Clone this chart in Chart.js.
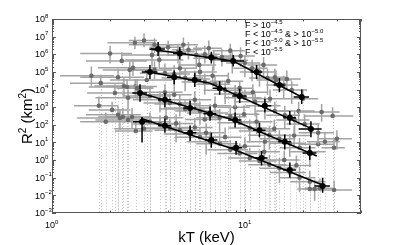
<html lang="en">

<head>
    <meta charset="UTF-8" />
    <title>R2 vs kT</title>
    <style>
        body { margin: 0; background: #fff; }
    </style>
</head>

<body>
    <canvas id="myChart" width="399" height="245"></canvas>

    <script src="https://cdn.jsdelivr.net/npm/chart.js"></script>

    <script>
        // each point: [kT, R2, kT error, R2 lower, R2 upper]  (R2 lower 0 = limit runs off the axis)
        const g1Grey = [
            [2.69, 4.5e6, 0.75, 2e6, 1e7], [2.30, 4.2e5, 0.8, 0, 1.3e6], [3.0, 6e6, 0.5, 2.5e6, 1.5e7],
            [3.4, 3.5e6, 0.9, 1.2e6, 8e6], [3.6, 4.8e5, 1.2, 1.5e5, 1.5e6], [4.0, 2.5e6, 0.8, 8e5, 6e6],
            [4.5, 1.4e6, 1.0, 3e5, 4e6], [5.1, 1.8e6, 0.9, 5e5, 5e6], [5.6, 9e5, 1.6, 1.5e5, 3e6],
            [5.8, 2.5e5, 1.3, 0, 8e5], [6.2, 1.0e6, 1.2, 3e5, 3e6], [6.9, 6e5, 1.5, 1.2e5, 1.8e6],
            [7.6, 7e5, 1.3, 2e5, 2e6], [8.4, 1.6e6, 1.6, 5e5, 4e6], [8.6, 4.6e5, 1.8, 8e4, 1.3e6],
            [10.0, 3.2e5, 2.0, 5e4, 8e5], [10.9, 1.6e5, 2.2, 3e4, 5e5], [11.9, 1e5, 2.5, 1.5e4, 3e5],
            [13.1, 4.5e4, 2.6, 5e3, 1.5e5], [14.3, 5e4, 2.0, 1.5e4, 1.5e5], [14.5, 3.5e4, 3.0, 0, 1.2e5],
            [15.9, 1.8e4, 3.0, 3e3, 6e4], [17.5, 9.5e3, 3.5, 1.5e3, 3e4], [25, 5.3e2, 6, 1.5e2, 1.5e3],
            [28.5, 3.2e2, 8, 0, 1e3], [2.0, 1.1e6, 0.6, 3e5, 3e6], [3.3, 9e5, 1.0, 2e5, 3e6],
            [4.8, 3.5e6, 0.9, 1e6, 9e6], [6.5, 2.2e6, 1.1, 6e5, 6e6], [9.5, 8e5, 1.8, 2e5, 2.5e6],
            [12.5, 2.5e5, 2.2, 6e4, 7e5], [16.5, 4e4, 3, 1e4, 1.2e5], [20, 3e3, 4, 0, 1e4]
        ];
        const g2Grey = [
            [1.79, 2.3e4, 0.55, 0, 7e4], [2.53, 1.3e5, 0.7, 4e4, 4e5], [2.63, 1.7e5, 0.9, 6e4, 5e5],
            [2.36, 1.6e4, 0.7, 4e3, 5e4], [2.45, 1.4e4, 0.9, 0, 4e4], [2.76, 1.2e4, 0.6, 3e3, 4e4],
            [3.4, 1.3e5, 0.8, 4e4, 4e5], [3.85, 8.5e4, 1.0, 0, 3e5], [4.3, 7.5e4, 0.9, 1.5e4, 2.5e5],
            [4.9, 4.5e4, 1.2, 8e3, 1.5e5], [5.5, 4e4, 1.1, 0, 1.2e5], [5.85, 1e5, 1.3, 3e4, 3e5],
            [6.2, 2.7e4, 1.5, 5e3, 8e4], [7.0, 2e4, 1.4, 0, 6e4], [7.9, 9e3, 1.8, 1.5e3, 3e4],
            [8.9, 5.5e3, 2.0, 1e3, 1.8e4], [9.4, 1.2e4, 1.6, 3e3, 3e4], [10.0, 3.4e3, 2.2, 0, 1e4],
            [11.3, 2e3, 2.4, 3e2, 6e3], [12.7, 1.2e3, 2.6, 2e2, 4e3], [14.3, 6e2, 3.0, 0, 2e3],
            [16.1, 3.5e2, 3.2, 60, 1.2e3], [18.1, 1.9e2, 3.5, 30, 6e2], [20.4, 1.1e2, 4, 0, 4e2],
            [24, 35, 5, 8, 1.2e2], [26, 11, 5, 0, 40], [30, 16, 6, 4, 50], [29, 5, 4, 0, 18],
            [1.6, 6e4, 0.5, 1.5e4, 2e5], [2.2, 5e4, 0.8, 0, 1.5e5], [3.1, 3.5e4, 1.1, 0, 1.2e5],
            [4.6, 1.6e5, 1.0, 5e4, 4e5], [6.8, 6e4, 1.4, 1.5e4, 2e5], [8.2, 3e4, 1.6, 0, 9e4],
            [11.0, 7e3, 2.2, 1.5e3, 2e4], [13.5, 3e3, 2.6, 0, 1e4], [19, 6e2, 4, 1e2, 2e3]
        ];
        const g3Grey = [
            [2.12, 6.3e3, 0.6, 0, 2e4], [2.48, 3.4e3, 0.8, 8e2, 1e4], [3.22, 4.3e3, 0.9, 0, 1.4e4],
            [3.63, 2.6e3, 1.0, 5e2, 8e3], [3.85, 7e3, 0.9, 2e3, 2e4], [4.08, 1.7e3, 1.1, 0, 6e3],
            [4.6, 1.5e3, 1.2, 3e2, 5e3], [5.2, 9e2, 1.4, 0, 3e3], [5.5, 2.6e3, 1.2, 6e2, 8e3],
            [5.85, 6e2, 1.5, 1e2, 2e3], [6.2, 2e2, 1.3, 0, 7e2], [6.6, 4.7e2, 1.6, 0, 1.5e3],
            [7.4, 2.5e2, 1.8, 40, 8e2], [8.4, 2.9e2, 1.8, 0, 9e2], [8.9, 1e3, 1.7, 2.5e2, 3e3],
            [9.4, 1.3e2, 2.2, 0, 4e2], [10.6, 65, 2.4, 10, 2e2], [11.9, 45, 2.6, 0, 1.5e2],
            [12.7, 11, 2.5, 0, 40], [13.4, 26, 3, 4, 90], [15.1, 16, 3.2, 0, 50],
            [17.1, 9, 3.6, 1.5, 30], [19.2, 5, 4, 0, 18], [21.7, 3, 4.5, 0.4, 10],
            [1.75, 1.2e3, 0.45, 0, 4e3], [2.7, 1.5e4, 0.8, 4e3, 4e4], [4.3, 5e3, 1.0, 0, 1.5e4],
            [4.9, 8e2, 1.3, 0, 2.5e3], [7.0, 1.2e3, 1.5, 3e2, 4e3], [9.9, 4e2, 2, 0, 1.3e3],
            [11.5, 1.5e2, 2.4, 30, 5e2], [14.2, 60, 3, 0, 2e2], [18, 25, 3.8, 5, 80], [24, 8, 5, 0, 25]
        ];
        const g4Grey = [
            [2.05, 700, 0.5, 0, 2e3], [2.2, 370, 0.7, 0, 1.2e3], [2.25, 245, 0.9, 50, 800],
            [2.33, 275, 0.6, 0, 900], [2.48, 190, 0.8, 0, 600], [2.6, 275, 0.7, 60, 900],
            [2.72, 45, 0.6, 0, 150], [3.22, 150, 0.9, 0, 500], [3.63, 110, 1.0, 0, 350],
            [4.08, 65, 1.1, 0, 220], [4.6, 50, 1.2, 0, 160], [5.2, 30, 1.4, 0, 100],
            [5.85, 20, 1.5, 0, 70], [6.6, 11, 1.6, 0, 40], [7.4, 8.5, 1.8, 0, 30],
            [8.4, 3.8, 2.0, 0, 14], [9.4, 2.4, 2.2, 0, 9], [10.6, 1.3, 2.4, 0, 5],
            [11.9, 0.9, 2.6, 0, 3.5], [13.4, 0.55, 3, 0, 2], [15.1, 0.35, 3.2, 0.05, 1.3],
            [17.1, 0.2, 3.6, 0, 0.8], [19.2, 0.1, 4, 0.015, 0.4], [21.7, 0.06, 4.5, 0, 0.25],
            [21.7, 0.023, 3, 0, 0.08], [23, 0.023, 3, 0.005, 0.08], [24.5, 0.025, 4, 0, 0.09],
            [29, 0.02, 7, 0, 0.07], [1.9, 150, 0.5, 0, 500], [3.0, 60, 0.9, 0, 200],
            [3.9, 250, 0.9, 0, 800], [4.4, 120, 1.0, 10, 400], [5.5, 70, 1.3, 0, 250],
            [6.3, 35, 1.5, 2, 120], [7.9, 20, 1.7, 0, 70], [10, 6, 2.1, 0, 20],
            [12.6, 3, 2.6, 0.5, 10], [16, 1, 3.2, 0, 3.5], [18.5, 0.5, 3.6, 0, 1.8]
        ];

        const g1Black = [
            [3.55, 2e6, 0.3, 8e5, 5e6], [4.6, 1.1e6, 0.35, 5e5, 2.5e6], [6.7, 6.5e5, 0.5, 3e5, 1.4e6],
            [8.7, 4.2e5, 1.2, 2e5, 9e5], [11.5, 1e5, 0.8, 4e4, 2.5e5], [15.1, 1.8e4, 1.0, 7e3, 4.5e4],
            [19.7, 3.8e3, 1.8, 1.5e3, 1e4]
        ];
        const g2Black = [
            [3.22, 1e5, 0.3, 4e4, 2.5e5], [4.3, 5e4, 0.35, 2e4, 1.2e5], [5.5, 3.5e4, 0.45, 1.4e4, 9e4],
            [7.4, 1.2e4, 0.6, 5e3, 3e4], [9.4, 4.3e3, 0.8, 1.7e3, 1.1e4], [12.7, 1.2e3, 1.0, 5e2, 3e3],
            [17.1, 2.5e2, 1.3, 1e2, 6e2], [22, 57, 3, 20, 160]
        ];
        const g3Black = [
            [2.86, 6.3e3, 0.25, 2e3, 2e4], [3.85, 2.6e3, 0.3, 1e3, 6.5e3], [5.2, 9e2, 0.4, 3.5e2, 2.3e3],
            [6.6, 4.3e2, 0.5, 1.7e2, 1.1e3], [8.9, 1.9e2, 0.7, 70, 5e2], [11.9, 50, 0.9, 20, 1.3e2],
            [16.1, 11, 1.2, 4, 28], [21.7, 2.5, 1.8, 1, 6.5]
        ];
        const g4Black = [
            [2.93, 150, 0.3, 10, 280], [3.85, 90, 0.3, 35, 230], [5.2, 35, 0.4, 12, 90],
            [6.7, 14, 0.5, 5, 35], [9, 5, 0.7, 2, 12], [12.2, 1.3, 0.9, 0.5, 3.3],
            [17.1, 0.27, 1.3, 0.1, 0.7], [25.3, 0.034, 2.3, 0.014, 0.1]
        ];

        // power-law fits, [kT, R2]
        const g1Fit = [[3.2, 2e6], [8.7, 4.2e5], [19.7, 3.8e3]];
        const g2Fit = [[3.03, 1.1e5], [6.6, 2.3e4], [22.5, 57]];
        const g3Fit = [[2.86, 6.3e3], [8.4, 214], [23.6, 1.7]];
        const g4Fit = [[2.9, 230], [8.4, 4.9], [25.3, 0.039]];

        const legendLabels = [
            [["F > 10", "−4.5"]],
            [["F < 10", "−4.5"], [" & > 10", "−5.0"]],
            [["F < 10", "−5.0"], [" & > 10", "−5.5"]],
            [["F < 10", "−5.5"]]
        ];
        const xTickExp = [0, 1];
        const yTickExp = [-3, -2, -1, 0, 1, 2, 3, 4, 5, 6, 7, 8];

        const FONT = "'Liberation Sans', Arial, sans-serif";

        function toXY(arr) {
            return arr.map(p => ({ x: p[0], y: p[1] }));
        }

        function greySet(arr) {
            return {
                data: toXY(arr), err: arr, barColor: "#a3a3a3",
                pointRadius: 2.3, backgroundColor: "#6b6b6b", borderWidth: 0, order: 2
            };
        }
        function blackSet(arr) {
            return {
                data: toXY(arr), err: arr, barColor: "#000",
                pointRadius: 3, backgroundColor: "#000", borderWidth: 0, order: 1
            };
        }
        function fitSet(arr) {
            return {
                data: toXY(arr), showLine: true, borderColor: "#000", borderWidth: 1.6,
                pointRadius: 0, order: 0
            };
        }

        const datasets = [
            greySet(g1Grey), greySet(g2Grey), greySet(g3Grey), greySet(g4Grey),
            blackSet(g1Black), blackSet(g2Black), blackSet(g3Black), blackSet(g4Black),
            fitSet(g1Fit), fitSet(g2Fit), fitSet(g3Fit), fitSet(g4Fit)
        ];

        function clipArea(ctx, a) {
            ctx.beginPath();
            ctx.rect(a.left, a.top, a.right - a.left, a.bottom - a.top);
            ctx.clip();
        }

        const errorBars = {
            id: "errorBars",
            beforeDatasetsDraw(chart) {
                // dotted lower limits that run below the axis
                const { ctx, chartArea: a, scales: { x, y } } = chart;
                ctx.save();
                clipArea(ctx, a);
                ctx.strokeStyle = "#c2c2c2";
                ctx.lineWidth = 1;
                ctx.setLineDash([1, 2]);
                chart.data.datasets.forEach(ds => {
                    if (!ds.err) return;
                    ds.err.forEach(p => {
                        if (p[3] > 0) return;
                        const px = Math.round(x.getPixelForValue(p[0])) + 0.5;
                        ctx.beginPath();
                        ctx.moveTo(px, y.getPixelForValue(p[1]));
                        ctx.lineTo(px, a.bottom);
                        ctx.stroke();
                    });
                });
                ctx.restore();
            },
            beforeDatasetDraw(chart, args) {
                const ds = chart.data.datasets[args.index];
                if (!ds.err) return;
                const { ctx, chartArea: a, scales: { x, y } } = chart;
                ctx.save();
                clipArea(ctx, a);
                ctx.strokeStyle = ds.barColor;
                ctx.lineWidth = 1.5;
                ds.err.forEach(p => {
                    const px = x.getPixelForValue(p[0]);
                    const py = y.getPixelForValue(p[1]);
                    ctx.beginPath();
                    ctx.moveTo(x.getPixelForValue(p[0] - p[2]), py);
                    ctx.lineTo(x.getPixelForValue(p[0] + p[2]), py);
                    ctx.moveTo(px, y.getPixelForValue(p[4]));
                    ctx.lineTo(px, p[3] > 0 ? y.getPixelForValue(p[3]) : py);
                    ctx.stroke();
                });
                ctx.restore();
            }
        };

        function drawPow(ctx, base, exp, x, y, size, supSize, rise) {
            ctx.font = size + "px " + FONT;
            ctx.fillText(base, x, y);
            const w = ctx.measureText(base).width;
            ctx.font = supSize + "px " + FONT;
            ctx.fillText(exp, x + w, y - rise);
            return w + ctx.measureText(exp).width;
        }

        const frame = {
            id: "frame",
            afterDraw(chart) {
                const { ctx, chartArea: a, scales: { x, y } } = chart;
                ctx.save();
                ctx.strokeStyle = "#555";
                ctx.lineWidth = 1;
                ctx.strokeRect(a.left + 0.5, a.top + 0.5, a.right - a.left - 1, a.bottom - a.top - 1);

                ctx.beginPath();
                // x ticks, inward on bottom and top
                for (let d = 0; d <= 1; d++) {
                    for (let m = 1; m <= 9; m++) {
                        const v = m * Math.pow(10, d);
                        if (v > x.max) break;
                        const px = Math.round(x.getPixelForValue(v)) + 0.5;
                        const len = m === 1 ? 4 : 2.5;
                        ctx.moveTo(px, a.bottom); ctx.lineTo(px, a.bottom - len);
                        ctx.moveTo(px, a.top); ctx.lineTo(px, a.top + len);
                    }
                }
                // y ticks, inward on left and right
                for (let d = -3; d <= 8; d++) {
                    for (let m = 1; m <= 9; m++) {
                        const v = m * Math.pow(10, d);
                        if (v > y.max) break;
                        const py = Math.round(y.getPixelForValue(v)) + 0.5;
                        const len = m === 1 ? 4 : 2;
                        ctx.moveTo(a.left, py); ctx.lineTo(a.left + len, py);
                        ctx.moveTo(a.right, py); ctx.lineTo(a.right - len, py);
                    }
                }
                ctx.stroke();

                // tick labels
                ctx.fillStyle = "#000";
                ctx.textBaseline = "alphabetic";
                ctx.textAlign = "left";
                yTickExp.forEach(e => {
                    const py = y.getPixelForValue(Math.pow(10, e));
                    drawPow(ctx, "10", String(e).replace("-", "−"), 35, py + 3.2, 9, 6, 4.5);
                });
                xTickExp.forEach(e => {
                    const px = x.getPixelForValue(Math.pow(10, e));
                    drawPow(ctx, "10", String(e), px - 7, 228, 9, 6, 4.5);
                });

                // axis titles
                ctx.font = "15px " + FONT;
                let w = ctx.measureText("kT (keV)").width;
                ctx.fillText("kT (keV)", (a.left + a.right) / 2 - w / 2, 242);

                ctx.save();
                ctx.translate(32, (a.top + a.bottom) / 2);
                ctx.rotate(-Math.PI / 2);
                const parts = [["R", 15, 0], ["2", 10, 6], [" (km", 15, 0], ["2", 10, 6], [")", 15, 0]];
                let total = 0;
                parts.forEach(p => { ctx.font = p[1] + "px " + FONT; total += ctx.measureText(p[0]).width; });
                let cx = -total / 2;
                parts.forEach(p => {
                    ctx.font = p[1] + "px " + FONT;
                    ctx.fillText(p[0], cx, -p[2]);
                    cx += ctx.measureText(p[0]).width;
                });
                ctx.restore();

                // legend text
                legendLabels.forEach((line, i) => {
                    let lx = 245;
                    const ly = 28 + i * 9;
                    line.forEach(seg => {
                        lx += drawPow(ctx, seg[0], seg[1], lx, ly, 9, 6, 4);
                    });
                });
                ctx.restore();
            }
        };

        const myChart = new Chart(document.getElementById("myChart"), {
            type: "scatter",
            data: { datasets },
            options: {
                responsive: false,
                animation: false,
                layout: { padding: { left: 52, right: 38, top: 19, bottom: 32 } },
                plugins: { legend: { display: false }, tooltip: { enabled: false } },
                scales: {
                    x: { type: "logarithmic", min: 1, max: 40, display: false },
                    y: { type: "logarithmic", min: 1e-3, max: 1e8, display: false }
                }
            },
            plugins: [errorBars, frame]
        });
    </script>
</body>

</html>
